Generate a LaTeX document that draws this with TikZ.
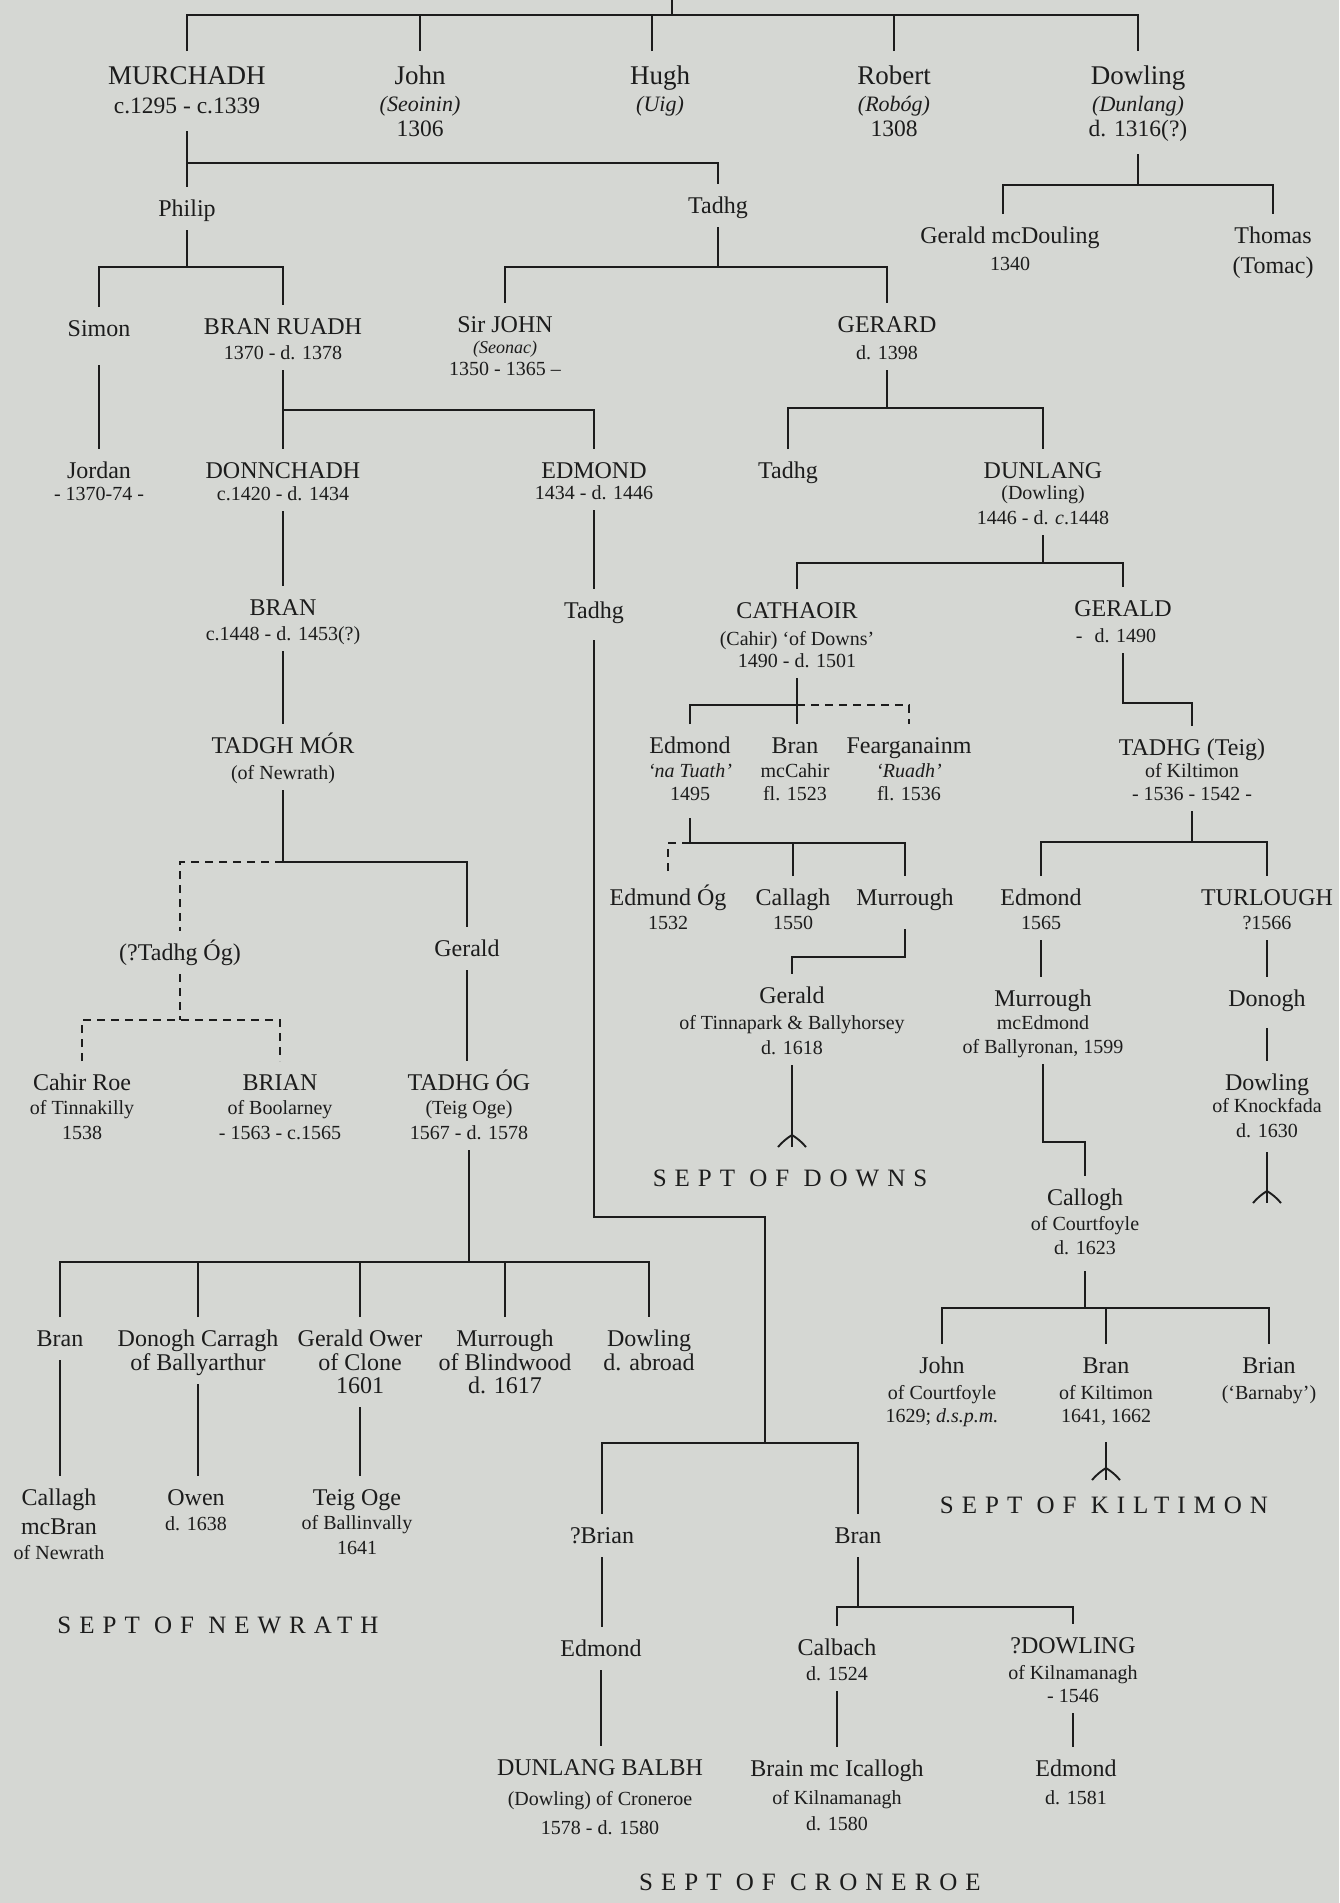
\documentclass[tikz,border=0pt]{standalone}
\usepackage{fontspec}
\setmainfont{Liberation Serif}
\newfontfamily\septfont[LetterSpace=32]{Liberation Serif}
\definecolor{paper}{RGB}{213,215,211}
\definecolor{ink}{RGB}{28,28,28}
\newcommand\crowfoot[1]{%
  \draw ([yshift=12pt]#1) to[bend right=8] ([xshift=-14pt]#1);
  \draw ([yshift=12pt]#1) to[bend left=8] ([xshift=14pt]#1);}
\tikzset{
  every node/.style={inner sep=0pt, outer sep=0pt, anchor=base, text=ink},
  nA/.style={font=\fontsize{27}{30}\selectfont, yshift=-9pt, text height=33pt, text depth=15pt},
  sA/.style={font=\fontsize{23.5}{26}\selectfont, yshift=-8pt, text height=17pt, text depth=18pt},
  iA/.style={font=\fontsize{22}{25}\selectfont\itshape, yshift=-8pt, text height=17pt, text depth=18pt},
  nN/.style={font=\fontsize{24}{27}\selectfont, yshift=-8pt, text height=29pt, text depth=14pt},
  dD/.style={font=\fontsize{20}{23}\selectfont, yshift=-7pt, text height=16pt, text depth=11pt},
  iD/.style={font=\fontsize{20}{23}\selectfont\itshape, yshift=-7pt, text height=16pt, text depth=11pt},
  iS/.style={font=\fontsize{18}{21}\selectfont\itshape, yshift=-6pt, text height=14pt, text depth=10pt},
  sept/.style={font=\septfont\fontsize{25}{28}\selectfont, yshift=-8pt},
  dsh/.style={dash pattern=on 8pt off 6pt},
}
\begin{document}
\begin{tikzpicture}[x=1pt,y=-1pt,line width=1.9pt,color=ink]
\fill[paper] (0,0) rectangle (1339,1903);
\useasboundingbox (0,0) rectangle (1339,1903);
% ---------- row coordinates
\coordinate (r0) at (0,15);
\coordinate (r1) at (0,163);
\coordinate (r2) at (0,185);
\coordinate (r3) at (0,267);
\coordinate (r4) at (0,410);
\coordinate (r5) at (0,408);
\coordinate (r6) at (0,862);
\coordinate (r7) at (0,1020);
\coordinate (r8) at (0,1262);
\coordinate (r9) at (0,1443);
\coordinate (r10) at (0,1607);
\coordinate (r11) at (0,563);
\coordinate (r12) at (0,705);
\coordinate (r13) at (0,843);
\coordinate (r14) at (0,957);
\coordinate (r15) at (0,703);
\coordinate (r16) at (0,842);
\coordinate (r17) at (0,1142);
\coordinate (r18) at (0,1308);
% ---------- top generation
\node[nA] (murN) at (187,75) {MURCHADH};
\node[sA] (murD) at (187,105) {c.1295 - c.1339};
\node[nA] (johN) at (420,75) {John};
\node[iA] (johI) at (420,103) {(Seoinin)};
\node[sA] (johD) at (420,128) {1306};
\node[nA] (hugN) at (660,75) {Hugh};
\node[iA] (hugI) at (660,103) {(Uig)};
\node[nA] (robN) at (894,75) {Robert};
\node[iA] (robI) at (894,103) {(Robóg)};
\node[sA] (robD) at (894,128) {1308};
\node[nA] (dowN) at (1138,75) {Dowling};
\node[iA] (dowI) at (1138,103) {(Dunlang)};
\node[sA] (dowD) at (1138,128) {d. 1316(?)};
\coordinate (top) at (672,0);
\draw (top) -- (top |- r0);
\draw (murN.north) -- (murN.north |- r0) -- (dowN.north |- r0) -- (dowN.north);
\draw (johN.north) -- (johN.north |- r0);
\draw ([xshift=-8pt]hugN.north) -- ([xshift=-8pt]hugN.north |- r0);
\draw (robN.north) -- (robN.north |- r0);
% ---------- Murchadh's sons
\node[nN] (phiN) at (187,208) {Philip};
\node[nN] (tadA) at (718,205) {Tadhg};
\draw (murD.south) -- (murD.south |- phiN.north);
\draw (murD.south |- r1) -- (tadA.north |- r1) -- (tadA.north);
% ---------- Dowling's sons
\node[nN] (gmdN) at (1010,235) {Gerald mcDouling};
\node[dD] (gmdD) at (1010,263) {1340};
\node[nN] (thoN) at (1273,235) {Thomas};
\node[nN] (thoT) at (1273,265) {(Tomac)};
\draw (dowD.south) -- (dowD.south |- r2);
\draw ([xshift=-7pt]gmdN.north) -- ([xshift=-7pt]gmdN.north |- r2) -- (thoN.north |- r2) -- (thoN.north);
% ---------- Philip's sons
\node[nN] (simN) at (99,328) {Simon};
\node[nN] (brrN) at (283,326) {BRAN RUADH};
\node[dD] (brrD) at (283,352) {1370 - d. 1378};
\draw (phiN.south) -- (phiN.south |- r3);
\draw (simN.north) -- (simN.north |- r3) -- (brrN.north |- r3) -- (brrN.north);
% ---------- Tadhg's sons
\node[nN] (sjN) at (505,324) {Sir JOHN};
\node[iS] (sjI) at (505,347) {(Seonac)};
\node[dD] (sjD) at (505,368) {1350 - 1365 –};
\node[nN] (gerN) at (887,324) {GERARD};
\node[dD] (gerD) at (887,352) {d. 1398};
\draw (tadA.south) -- (tadA.south |- r3);
\draw (sjN.north) -- (sjN.north |- r3) -- (gerN.north |- r3) -- (gerN.north);
% ---------- Jordan
\node[nN] (jorN) at (99,470) {Jordan};
\node[dD] (jorD) at (99,493) {- 1370-74 -};
\draw ([yshift=-15pt]simN.south) -- (simN.south |- jorN.north);
% ---------- Bran Ruadh's sons
\node[nN] (donN) at (283,470) {DONNCHADH};
\node[dD] (donD) at (283,493) {c.1420 - d. 1434};
\node[nN] (edmN) at (594,470) {EDMOND};
\node[dD] (edmD) at (594,492) {1434 - d. 1446};
\draw (brrD.south) -- (brrD.south |- donN.north);
\draw (brrD.south |- r4) -- (edmN.north |- r4) -- (edmN.north);
% ---------- Gerard's sons
\node[nN] (tadB) at (788,470) {Tadhg};
\node[nN] (dunN) at (1043,470) {DUNLANG};
\node[dD] (dunP) at (1043,492) {(Dowling)};
\node[dD] (dunD) at (1043,517) {1446 - d. \textit{c}.1448};
\draw (gerD.south) -- (gerD.south |- r5);
\draw (tadB.north) -- (tadB.north |- r5) -- (dunN.north |- r5) -- (dunN.north);
% ---------- Newrath line
\node[nN] (branN) at (283,607) {BRAN};
\node[dD] (branD) at (283,633) {c.1448 - d. 1453(?)};
\draw (donD.south) -- (donD.south |- branN.north);
\node[nN] (tmN) at (283,745) {TADGH MÓR};
\node[dD] (tmO) at (283,772) {(of Newrath)};
\draw (branD.south) -- (branD.south |- tmN.north);
\node[nN] (togq) at (180,952) {(?Tadhg Óg)};
\node[nN] (gerL) at (467,948) {Gerald};
\draw (tmO.south) -- (tmO.south |- r6) -- (gerL.north |- r6) -- (gerL.north);
\draw[dsh] (tmO.south |- r6) -- (togq.north |- r6) -- (togq.north);
\node[nN] (crN) at (82,1082) {Cahir Roe};
\node[dD] (crO) at (82,1107) {of Tinnakilly};
\node[dD] (crD) at (82,1132) {1538};
\node[nN] (brN) at (280,1082) {BRIAN};
\node[dD] (brO) at (280,1107) {of Boolarney};
\node[dD] (brD) at (280,1132) {- 1563 - c.1565};
\draw[dsh] (togq.south) -- (togq.south |- r7);
\draw[dsh] (crN.north) -- (crN.north |- r7) -- (brN.north |- r7) -- (brN.north);
\node[nN] (togN) at (469,1082) {TADHG ÓG};
\node[dD] (togT) at (469,1107) {(Teig Oge)};
\node[dD] (togD) at (469,1132) {1567 - d. 1578};
\draw (gerL.south) -- (gerL.south |- togN.north);
\node[nN] (braN) at (60,1338) {Bran};
\node[nN] (dcN) at (198,1338) {Donogh Carragh};
\node[nN] (dcO) at (198,1362) {of Ballyarthur};
\node[nN] (gowN) at (360,1338) {Gerald Ower};
\node[nN] (gowO) at (360,1362) {of Clone};
\node[nN] (gowD) at (360,1385) {1601};
\node[nN] (muN) at (505,1338) {Murrough};
\node[nN] (muO) at (505,1362) {of Blindwood};
\node[nN] (muD) at (505,1385) {d. 1617};
\node[nN] (daN) at (649,1338) {Dowling};
\node[nN] (daD) at (649,1362) {d. abroad};
\draw (togD.south) -- (togD.south |- r8);
\draw (braN.north) -- (braN.north |- r8) -- (daN.north |- r8) -- (daN.north);
\draw (dcN.north) -- (dcN.north |- r8);
\draw (gowN.north) -- (gowN.north |- r8);
\draw (muN.north) -- (muN.north |- r8);
\node[nN] (caN) at (59,1497) {Callagh};
\node[nN] (caM) at (59,1526) {mcBran};
\node[dD] (caO) at (59,1552) {of Newrath};
\draw (braN.south) -- (braN.south |- caN.north);
\node[nN] (owN) at (196,1497) {Owen};
\node[dD] (owD) at (196,1523) {d. 1638};
\draw (dcO.south) -- (dcO.south |- owN.north);
\node[nN] (toN) at (357,1497) {Teig Oge};
\node[dD] (toO) at (357,1522) {of Ballinvally};
\node[dD] (toD) at (357,1547) {1641};
\draw (gowD.south) -- (gowD.south |- toN.north);
\node[sept] (sN) at (218,1625) {SEPT OF NEWRATH};
% ---------- Croneroe line
\node[nN] (tadE) at (594,610) {Tadhg};
\draw (edmD.south) -- (edmD.south |- tadE.north);
\coordinate (bend1) at (765,1217);
\draw ([yshift=-8pt]tadE.south) |- (bend1) -- (bend1 |- r9);
\node[nN] (qbN) at (602,1535) {?Brian};
\node[nN] (bcN) at (858,1535) {Bran};
\draw (qbN.north) -- (qbN.north |- r9) -- (bcN.north |- r9) -- (bcN.north);
\node[nN] (edC) at (601,1648) {Edmond};
\draw (qbN.south) -- (qbN.south |- edC.north);
\node[nN] (dbN) at (600,1767) {DUNLANG BALBH};
\node[dD] (dbP) at (600,1798) {(Dowling) of Croneroe};
\node[dD] (dbD) at (600,1827) {1578 - d. 1580};
\draw (edC.south) -- (edC.south |- dbN.north);
\node[nN] (cbN) at (837,1647) {Calbach};
\node[dD] (cbD) at (837,1673) {d. 1524};
\node[nN] (qdN) at (1073,1645) {?DOWLING};
\node[dD] (qdO) at (1073,1672) {of Kilnamanagh};
\node[dD] (qdD) at (1073,1695) {- 1546};
\draw (bcN.south) -- (bcN.south |- r10);
\draw (cbN.north) -- (cbN.north |- r10) -- (qdN.north |- r10) -- (qdN.north);
\node[nN] (bmN) at (837,1768) {Brain mc Icallogh};
\node[dD] (bmO) at (837,1797) {of Kilnamanagh};
\node[dD] (bmD) at (837,1823) {d. 1580};
\draw (cbD.south) -- (cbD.south |- bmN.north);
\node[nN] (ekN) at (1076,1768) {Edmond};
\node[dD] (ekD) at (1076,1797) {d. 1581};
\draw (qdD.south) -- (qdD.south |- ekN.north);
\node[sept] (sC) at (810,1882) {SEPT OF CRONEROE};
% ---------- Downs line
\node[nN] (catN) at (797,610) {CATHAOIR};
\node[dD] (catC) at (797,638) {(Cahir) ‘of Downs’};
\node[dD] (catD) at (797,660) {1490 - d. 1501};
\node[nN] (gldN) at (1123,608) {GERALD};
\node[dD] (gldD) at (1116,635) {-\hspace{0.6em}d. 1490};
\draw (dunD.south) -- (dunD.south |- r11);
\draw (catN.north) -- (catN.north |- r11) -- (gldN.north |- r11) -- (gldN.north);
\node[nN] (enN) at (690,745) {Edmond};
\node[iD] (enI) at (690,770) {‘na Tuath’};
\node[dD] (enD) at (690,793) {1495};
\node[nN] (bmcN) at (795,745) {Bran};
\node[dD] (bmcM) at (795,770) {mcCahir};
\node[dD] (bmcD) at (795,793) {fl. 1523};
\node[nN] (feN) at (909,745) {Fearganainm};
\node[iD] (feI) at (909,770) {‘Ruadh’};
\node[dD] (feD) at (909,793) {fl. 1536};
\draw (catD.south) -- (catD.south |- bmcN.north);
\draw (enN.north) -- (enN.north |- r12) -- (catD.south |- r12);
\draw[dsh] (catD.south |- r12) -- (feN.north |- r12) -- (feN.north);
\node[nN] (eoN) at (668,897) {Edmund Óg};
\node[dD] (eoD) at (668,922) {1532};
\node[nN] (c2N) at (793,897) {Callagh};
\node[dD] (c2D) at (793,922) {1550};
\node[nN] (mxN) at (905,897) {Murrough};
\draw ([yshift=-7pt]enD.south) -- (enD.south |- r13) -- (mxN.north |- r13) -- (mxN.north);
\draw (c2N.north) -- (c2N.north |- r13);
\draw[dsh] (enD.south |- r13) -- (eoN.north |- r13) -- (eoN.north);
\node[nN] (gtN) at (792,995) {Gerald};
\node[dD] (gtO) at (792,1022) {of Tinnapark \& Ballyhorsey};
\node[dD] (gtD) at (792,1047) {d. 1618};
\draw ([yshift=-10pt]mxN.south) -- (mxN.south |- r14) -- (gtN.north |- r14) -- (gtN.north);
\coordinate (ftD) at (792,1147);
\draw (gtD.south) -- (ftD);
\crowfoot{ftD}
\node[sept] (sD) at (790,1178) {SEPT OF DOWNS};
% ---------- Kiltimon line
\node[nN] (ttN) at (1192,747) {TADHG (Teig)};
\node[dD] (ttO) at (1192,770) {of Kiltimon};
\node[dD] (ttD) at (1192,793) {- 1536 - 1542 -};
\draw (gldN.south |- gldD.south) -- (gldN.south |- r15) -| (ttN.north);
\node[nN] (ekA) at (1041,897) {Edmond};
\node[dD] (ekAD) at (1041,922) {1565};
\node[nN] (tuN) at (1267,897) {TURLOUGH};
\node[dD] (tuD) at (1267,922) {?1566};
\draw (ttD.south) -- (ttD.south |- r16);
\draw (ekA.north) -- (ekA.north |- r16) -- (tuN.north |- r16) -- (tuN.north);
\node[nN] (mkN) at (1043,998) {Murrough};
\node[dD] (mkM) at (1043,1022) {mcEdmond};
\node[dD] (mkO) at (1043,1046) {of Ballyronan, 1599};
\draw (ekAD.south) -- (ekAD.south |- mkN.north);
\node[nN] (coN) at (1085,1197) {Callogh};
\node[dD] (coO) at (1085,1223) {of Courtfoyle};
\node[dD] (coD) at (1085,1247) {d. 1623};
\draw (mkO.south) -- (mkO.south |- r17) -| (coN.north);
\node[nN] (jcN) at (942,1365) {John};
\node[dD] (jcO) at (942,1392) {of Courtfoyle};
\node[dD] (jcD) at (942,1415) {1629; \textit{d.s.p.m.}};
\node[nN] (bkN) at (1106,1365) {Bran};
\node[dD] (bkO) at (1106,1392) {of Kiltimon};
\node[dD] (bkD) at (1106,1415) {1641, 1662};
\node[nN] (bbN) at (1269,1365) {Brian};
\node[dD] (bbO) at (1269,1392) {(‘Barnaby’)};
\draw ([yshift=-6pt]coD.south) -- (coD.south |- r18);
\draw (jcN.north) -- (jcN.north |- r18) -- (bbN.north |- r18) -- (bbN.north);
\draw (bkN.north) -- (bkN.north |- r18);
\coordinate (ftK) at (1106,1480);
\draw ([yshift=-9pt]bkD.south) -- (ftK);
\crowfoot{ftK}
\node[sept] (sK) at (1104,1505) {SEPT OF KILTIMON};
\node[nN] (dnN) at (1267,998) {Donogh};
\draw (tuD.south) -- (tuD.south |- dnN.north);
\node[nN] (dkN) at (1267,1082) {Dowling};
\node[dD] (dkO) at (1267,1105) {of Knockfada};
\node[dD] (dkD) at (1267,1130) {d. 1630};
\draw ([yshift=-8pt]dnN.south) -- (dnN.south |- dkN.north);
\coordinate (ftT) at (1267,1203);
\draw ([yshift=-4pt]dkD.south) -- (ftT);
\crowfoot{ftT}
\end{tikzpicture}
\end{document}
